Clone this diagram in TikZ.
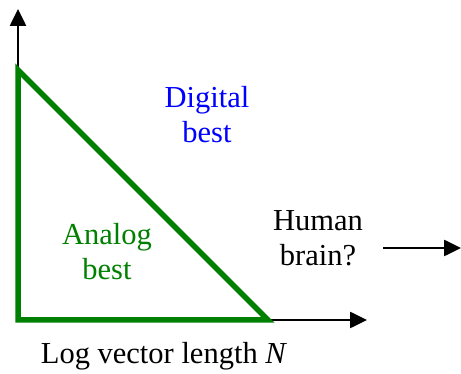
\documentclass[tikz,border=0pt]{standalone}
\usepackage{fontspec}
\newfontfamily\tnr{Liberation Serif}
\usetikzlibrary{arrows.meta}
\definecolor{dgreen}{RGB}{0,128,0}
\begin{document}
\begin{tikzpicture}[x=1pt,y=-1pt,
  axis/.style={line width=2.6pt,-{Triangle[length=17pt,width=16pt]}},
  lbl/.style={font=\tnr\fontsize{30.5}{35}\selectfont,align=center,inner sep=0pt},
  tri/.style={draw=dgreen,line width=5.5pt,line join=miter}]
\useasboundingbox (0,0) rectangle (461,374);
\coordinate (o) at (18,320);
\coordinate (ytop) at (18,9);
\coordinate (xend) at (367,320);
\coordinate (a) at (18,70);
\coordinate (b) at (268,320);
\draw[axis] (o) -- (ytop);
\draw[axis] (o) -- (xend);
\draw[tri] (a) -- (o) -- (b) -- cycle;
\node[lbl,text=blue] (dig) at (207,115) {\tnr Digital\\\tnr best};
\node[lbl,text=dgreen] (ana) at (107,252) {\tnr Analog\\\tnr best};
\node[lbl] (hum) at (318,238) {\tnr Human\\\tnr brain?};
\coordinate (hend) at (461,248);
\coordinate (hstart) at (383,248);
\draw[axis] (hstart) -- (hend);
\node[lbl] (xl) at (164,356) {\tnr Log vector length \textit{N}};
\end{tikzpicture}
\end{document}
